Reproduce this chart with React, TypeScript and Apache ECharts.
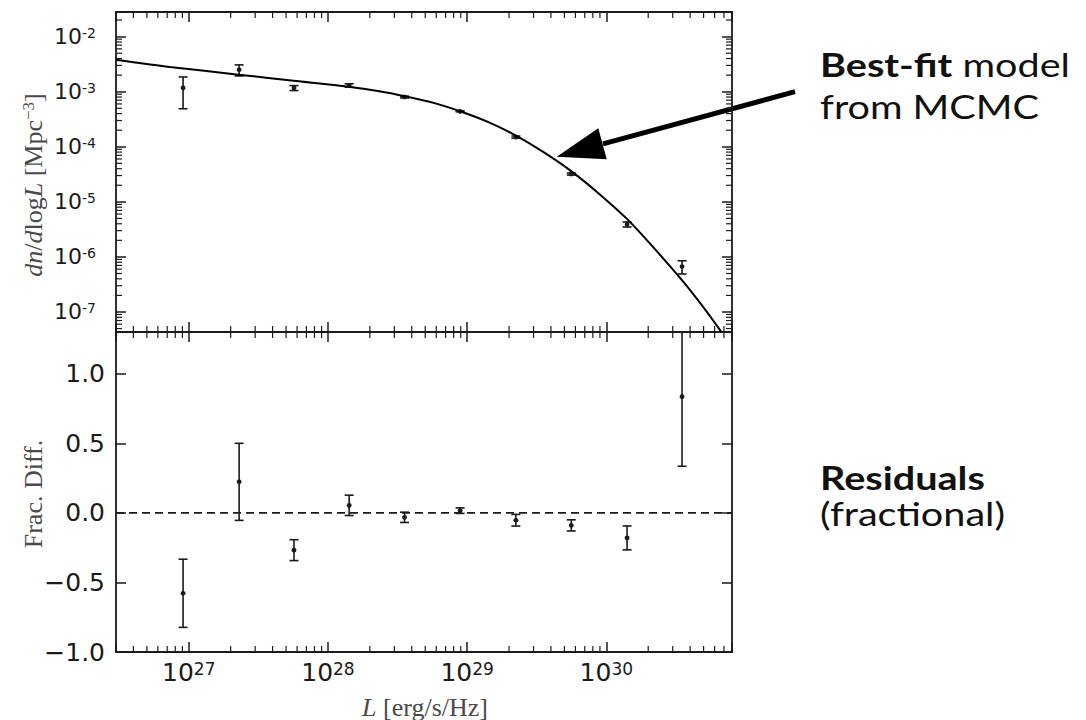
import React, { useEffect, useRef } from 'react';
import * as echarts from 'echarts';

// Luminosity bins [erg/s/Hz]
const lum = [9.1e26, 2.3e27, 5.7e27, 1.42e28, 3.55e28, 8.9e28, 2.24e29, 5.6e29, 1.41e30, 3.5e30];
// Measured luminosity function dn/dlogL [Mpc^-3] and 1-sigma errors
const density = [1.17e-3, 2.5e-3, 1.17e-3, 1.3e-3, 8.0e-4, 4.4e-4, 1.5e-4, 3.2e-5, 3.9e-6, 6.7e-7];
const densityErr = [6.8e-4, 5.7e-4, 1.2e-4, 9e-5, 3e-5, 9e-6, 6.7e-6, 1.4e-6, 4.1e-7, 1.8e-7];
// Fractional residuals (data - model) / model
const fracDiff = [-0.578, 0.223, -0.268, 0.054, -0.032, 0.016, -0.053, -0.09, -0.18, 0.835];
const fracErr = [0.245, 0.277, 0.075, 0.073, 0.037, 0.02, 0.042, 0.04, 0.086, 0.5];
// Best-fit model curve
const modelL = [3.0e26, 7.3e26, 2.28e27, 5.65e27, 1.4e28, 2.34e28, 3.55e28, 5.83e28, 9.1e28, 1.45e29, 2.26e29, 3.59e29, 5.71e29, 8.94e29, 1.42e30, 2.22e30, 3.52e30, 5.07e30, 6.68e30];
const modelN = [3.82e-3, 2.82e-3, 2.04e-3, 1.58e-3, 1.23e-3, 1.02e-3, 8.3e-4, 6.2e-4, 4.33e-4, 2.75e-4, 1.58e-4, 7.8e-5, 3.47e-5, 1.38e-5, 4.8e-6, 1.41e-6, 3.7e-7, 1.15e-7, 4.4e-8];

// Axis ranges
const X_MIN = 3e26;
const X_MAX = 8e30;
const Y_MIN = 4.33e-8;
const Y_MAX = 2.8e-2;
const R_MIN = -1;
const R_MAX = 1.3;
const R_STEP = 0.5;

const INK = '#1b1b1b';
const TITLE = '#4a4a4a';
const LABEL_FONT = 'DejaVu Sans';
const SERIF = 'Liberation Serif';
const NOTE_FONT = 'Lato';
const NOTE_SIZE = 33;
const NOTE_STRETCH = 1.2;

// 2..9 x 10^n minor tick positions inside a log range
function logMinorTicks(lo: number, hi: number): number[] {
  const out: number[] = [];
  for (let d = Math.floor(Math.log10(lo)); d <= Math.ceil(Math.log10(hi)); d++) {
    for (let m = 2; m <= 9; m++) {
      const v = m * Math.pow(10, d);
      if (v > lo && v < hi) out.push(v);
    }
  }
  return out;
}

const powLabel = (v: number) => {
  const l = Math.log10(v);
  const e = Math.round(l);
  if (Math.abs(l - e) > 1e-6) return '';
  return '{b|10}{s|' + (e < 0 ? '-' + -e : String(e)) + '}';
};

const fracLabel = (v: number) => {
  if (Math.abs(v - R_MAX) < 1e-9) return '';
  return (v < 0 ? '\u2212' : '') + Math.abs(v).toFixed(1);
};

const frameLine = { show: true, onZero: false, lineStyle: { color: INK, width: 1.8 } };
const majorTick = { show: true, inside: true, length: 10, lineStyle: { color: INK, width: 1.5 } };
const noLabel = { show: false };
const noSplit = { show: false };

function errBarItem(params: any, api: any) {
  const x = api.value(0);
  const c = api.coord([x, api.value(1)]);
  const a = api.coord([x, api.value(2)]);
  const b = api.coord([x, api.value(3)]);
  const cap = 4.5;
  const st = { stroke: INK, lineWidth: 1.6 };
  return {
    type: 'group',
    children: [
      { type: 'line', shape: { x1: a[0], y1: a[1], x2: b[0], y2: b[1] }, style: st },
      { type: 'line', shape: { x1: a[0] - cap, y1: a[1], x2: a[0] + cap, y2: a[1] }, style: st },
      { type: 'line', shape: { x1: b[0] - cap, y1: b[1], x2: b[0] + cap, y2: b[1] }, style: st },
      { type: 'circle', shape: { cx: c[0], cy: c[1], r: 2.4 }, style: { fill: INK } },
    ],
  };
}

const MINOR = 6;
function xMinorItem(params: any, api: any) {
  const cs = params.coordSys;
  const px = api.coord([api.value(0), api.value(1)])[0];
  const st = { stroke: INK, lineWidth: 1.2 };
  const bottom = cs.y + cs.height;
  return {
    type: 'group',
    children: [
      { type: 'line', shape: { x1: px, y1: bottom, x2: px, y2: bottom - MINOR }, style: st },
      { type: 'line', shape: { x1: px, y1: cs.y, x2: px, y2: cs.y + MINOR }, style: st },
    ],
  };
}
function yMinorItem(params: any, api: any) {
  const cs = params.coordSys;
  const py = api.coord([api.value(0), api.value(1)])[1];
  const st = { stroke: INK, lineWidth: 1.2 };
  const right = cs.x + cs.width;
  return {
    type: 'group',
    children: [
      { type: 'line', shape: { x1: cs.x, y1: py, x2: cs.x + MINOR, y2: py }, style: st },
      { type: 'line', shape: { x1: right, y1: py, x2: right - MINOR, y2: py }, style: st },
    ],
  };
}

function logX(gridIndex: number, position: string, label: any) {
  return {
    gridIndex,
    type: 'log',
    logBase: 10,
    min: X_MIN,
    max: X_MAX,
    position,
    axisLine: frameLine,
    axisTick: majorTick,
    axisLabel: label,
    splitLine: noSplit,
  };
}

function note(text: string, x: number, y: number, bold: boolean, rich?: any) {
  return {
    type: 'text', x, y, scaleX: NOTE_STRETCH,
    style: {
      text, fontFamily: NOTE_FONT, fontSize: NOTE_SIZE, fontWeight: bold ? 'bold' : 'normal',
      fill: '#111', verticalAlign: 'middle', rich,
    },
  };
}

export default function App() {
  const ref = useRef<HTMLDivElement>(null);

  useEffect(() => {
    if (!ref.current) return;
    const chart = echarts.init(ref.current, undefined, { renderer: 'svg' });

    const xMinor = logMinorTicks(X_MIN, X_MAX);
    const yMinor = logMinorTicks(Y_MIN, Y_MAX);

    const bigLabelRich = {
      b: { fontFamily: LABEL_FONT, fontSize: 25, color: INK },
      s: { fontFamily: LABEL_FONT, fontSize: 17, color: INK, verticalAlign: 'top' },
    };
    const yLabelRich = {
      b: { fontFamily: LABEL_FONT, fontSize: 22, color: INK },
      s: { fontFamily: LABEL_FONT, fontSize: 14, color: INK, verticalAlign: 'top' },
    };
    const TS = 26;

    const option: any = {
      animation: false,
      backgroundColor: '#ffffff',
      grid: [
        { left: 116, top: 12, width: 616, height: 320 },
        { left: 116, top: 332, width: 616, height: 320 },
      ],
      xAxis: [
        logX(0, 'bottom', noLabel),
        logX(0, 'top', noLabel),
        logX(1, 'bottom', { show: true, formatter: powLabel, margin: 8, rich: bigLabelRich }),
        logX(1, 'top', noLabel),
      ],
      yAxis: [
        {
          gridIndex: 0, type: 'log', logBase: 10, min: Y_MIN, max: Y_MAX, position: 'left',
          axisLine: frameLine, axisTick: majorTick, splitLine: noSplit,
          axisLabel: { show: true, formatter: powLabel, margin: 20, rich: yLabelRich },
        },
        {
          gridIndex: 0, type: 'log', logBase: 10, min: Y_MIN, max: Y_MAX, position: 'right',
          axisLine: frameLine, axisTick: majorTick, splitLine: noSplit, axisLabel: noLabel,
        },
        {
          gridIndex: 1, type: 'value', min: R_MIN, max: R_MAX, interval: R_STEP, position: 'left',
          axisLine: frameLine, axisTick: majorTick, splitLine: noSplit,
          axisLabel: { show: true, formatter: fracLabel, margin: 11, fontFamily: LABEL_FONT, fontSize: 25, color: INK },
        },
        {
          gridIndex: 1, type: 'value', min: R_MIN, max: R_MAX, interval: R_STEP, position: 'right',
          axisLine: frameLine, axisTick: majorTick, splitLine: noSplit, axisLabel: noLabel,
        },
      ],
      series: [
        // minor ticks, top panel
        {
          type: 'custom', xAxisIndex: 0, yAxisIndex: 0, silent: true,
          data: xMinor.map((v) => [v, 1e-4]), renderItem: xMinorItem,
        },
        {
          type: 'custom', xAxisIndex: 0, yAxisIndex: 0, silent: true,
          data: yMinor.map((v) => [1e28, v]), renderItem: yMinorItem,
        },
        // minor ticks, residual panel
        {
          type: 'custom', xAxisIndex: 2, yAxisIndex: 2, silent: true,
          data: xMinor.map((v) => [v, 0]), renderItem: xMinorItem,
        },
        // best-fit model
        {
          type: 'line', xAxisIndex: 0, yAxisIndex: 0, symbol: 'none', smooth: 0.3, clip: true,
          lineStyle: { color: '#000', width: 2 },
          data: modelL.map((L, i) => [L, modelN[i]]),
        },
        // measured points
        {
          type: 'custom', xAxisIndex: 0, yAxisIndex: 0, clip: true,
          data: lum.map((L, i) => [L, density[i], density[i] - densityErr[i], density[i] + densityErr[i]]),
          renderItem: errBarItem,
        },
        // zero reference
        {
          type: 'line', xAxisIndex: 2, yAxisIndex: 2, symbol: 'none', silent: true,
          lineStyle: { color: INK, width: 1.8, type: [8, 5] },
          data: [[X_MIN, 0], [X_MAX, 0]],
        },
        // residuals
        {
          type: 'custom', xAxisIndex: 2, yAxisIndex: 2, clip: true,
          data: lum.map((L, i) => [L, fracDiff[i], fracDiff[i] - fracErr[i], fracDiff[i] + fracErr[i]]),
          renderItem: errBarItem,
        },
      ],
      graphic: [
        {
          type: 'text', x: 33, y: 185, rotation: Math.PI / 2,
          style: {
            text: '{i|dn}/{i|d}log{i|L} [Mpc{s|\u22123}]',
            fontFamily: SERIF, fontSize: TS, fill: TITLE, align: 'center', verticalAlign: 'middle',
            rich: {
              i: { fontFamily: SERIF, fontSize: TS, fontStyle: 'italic', fill: TITLE },
              s: { fontFamily: SERIF, fontSize: 17, fill: TITLE, verticalAlign: 'top' },
            },
          },
        },
        {
          type: 'text', x: 33, y: 494, rotation: Math.PI / 2,
          style: {
            text: 'Frac. Diff.', fontFamily: SERIF, fontSize: TS, fill: TITLE,
            align: 'center', verticalAlign: 'middle',
          },
        },
        {
          type: 'text', x: 425, y: 707,
          style: {
            text: '{i|L} [erg/s/Hz]', fontFamily: SERIF, fontSize: TS, fill: TITLE,
            align: 'center', verticalAlign: 'middle',
            rich: { i: { fontFamily: SERIF, fontSize: TS, fontStyle: 'italic', fill: TITLE } },
          },
        },
        // arrow pointing at the model curve
        {
          type: 'line', shape: { x1: 795, y1: 91.7, x2: 603, y2: 143.8 },
          style: { stroke: '#000', lineWidth: 5 },
        },
        {
          type: 'polygon', shape: { points: [[556.7, 156.7], [598.3, 128.3], [606.7, 159.3]] },
          style: { fill: '#000' },
        },
        note('{b|Best-fit} model', 820, 64, false, {
          b: { fontFamily: NOTE_FONT, fontWeight: 'bold', fontSize: NOTE_SIZE, fill: '#111' },
        }),
        note('from MCMC', 820, 106, false),
        note('Residuals', 820, 477, true),
        note('(fractional)', 820, 513, false),
      ],
    };

    chart.setOption(option);
    return () => chart.dispose();
  }, []);

  return (
    <div
      ref={ref}
      style={{ position: 'absolute', left: 0, top: 0, width: 1086, height: 720, background: '#fff' }}
    />
  );
}
